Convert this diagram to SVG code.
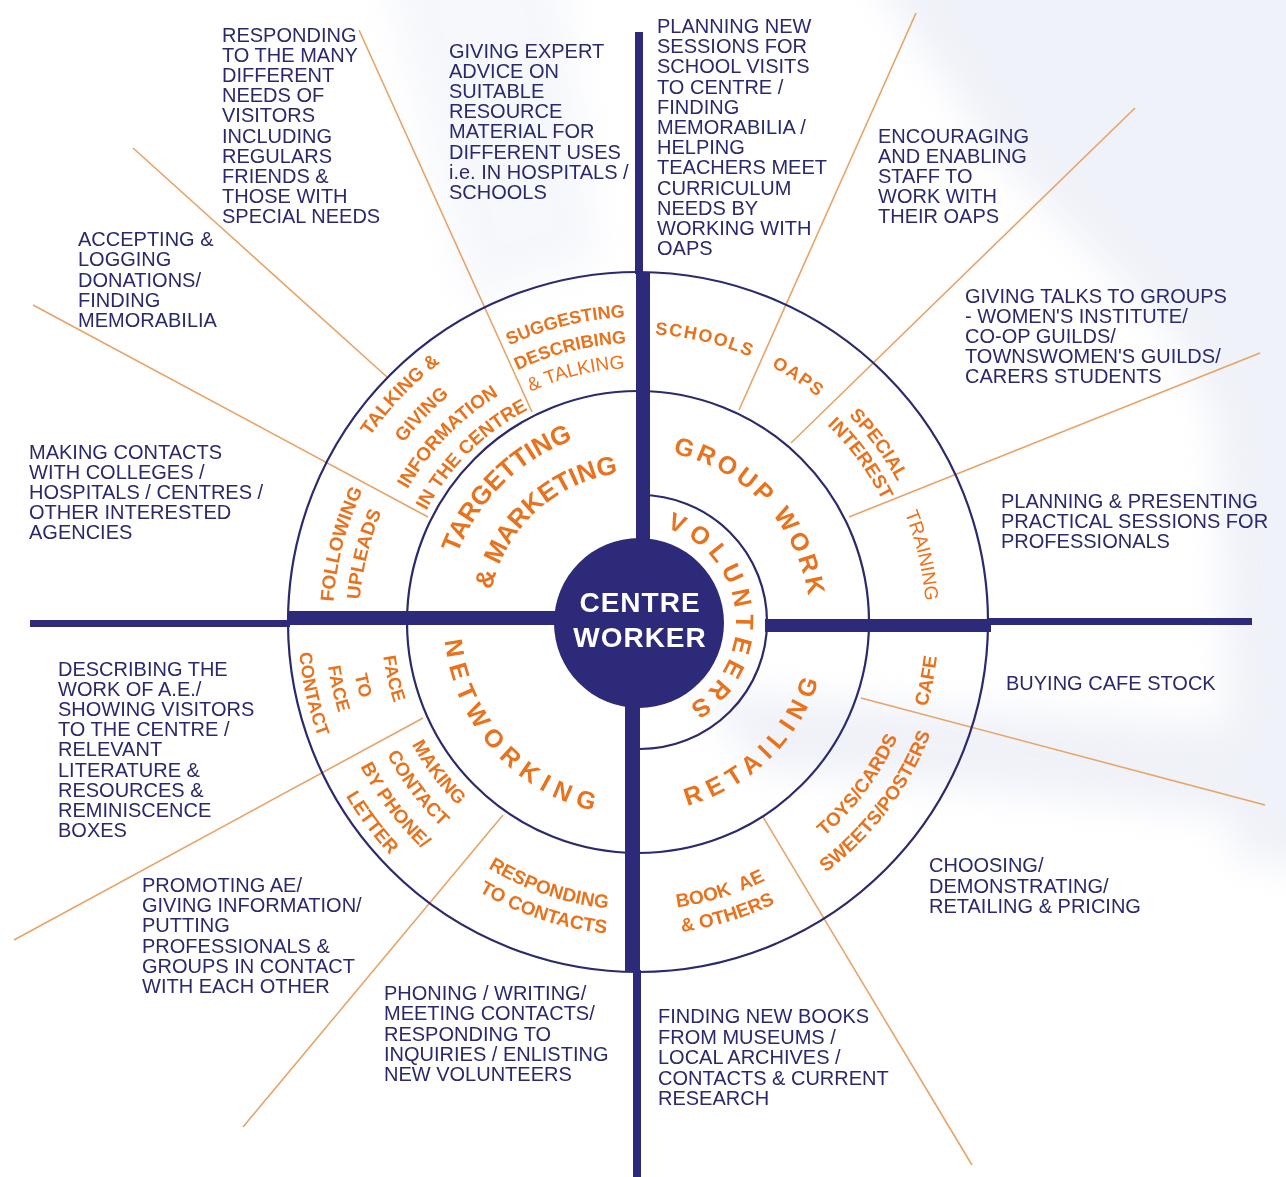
<svg xmlns="http://www.w3.org/2000/svg" width="1286" height="1177" viewBox="0 0 1286 1177">
<style>
.t{font-family:"Liberation Sans",Arial,sans-serif;font-size:20px;fill:#29296b}
.o{font-family:"Liberation Sans",Arial,sans-serif;font-weight:bold;font-size:18px;fill:#E8731E;text-anchor:middle}
.s19{font-size:19px}
.nw{font-weight:normal;fill:#F0701A}
.big{font-size:26px}
.mid{font-size:25px}
.ring{fill:none;stroke:#2B2A6B;stroke-width:2.2}
.ray{stroke:#E6A468;stroke-width:1.6;fill:none}
.bar{fill:#2E2A7A}
.bg{fill:#e9ecf6}
.cw{font-family:"Liberation Sans",Arial,sans-serif;font-weight:bold;font-size:28px;fill:#ffffff;text-anchor:middle;letter-spacing:1px}
</style>
<defs>
<filter id="soft" x="-20%" y="-20%" width="140%" height="140%"><feGaussianBlur stdDeviation="18"/></filter>
<path id="t98" d="M-96.51,-17.02 A98,98 0 0 1 96.51,-17.02"/>
<path id="t150" d="M-147.72,-26.05 A150,150 0 0 1 147.72,-26.05"/>
<path id="t172" d="M-169.39,-29.87 A172,172 0 0 1 169.39,-29.87"/>
<path id="t193" d="M-190.07,-33.51 A193,193 0 0 1 190.07,-33.51"/>
<path id="t239" d="M-235.37,-41.50 A239,239 0 0 1 235.37,-41.50"/>
<path id="t254" d="M-250.14,-44.11 A254,254 0 0 1 250.14,-44.11"/>
<path id="t266" d="M-261.96,-46.19 A266,266 0 0 1 261.96,-46.19"/>
<path id="t273" d="M-268.85,-47.41 A273,273 0 0 1 268.85,-47.41"/>
<path id="t279" d="M-274.76,-48.45 A279,279 0 0 1 274.76,-48.45"/>
<path id="t288" d="M-283.63,-50.01 A288,288 0 0 1 283.63,-50.01"/>
<path id="t295" d="M-290.52,-51.23 A295,295 0 0 1 290.52,-51.23"/>
<path id="t305" d="M-300.37,-52.96 A305,305 0 0 1 300.37,-52.96"/>
<path id="t326" d="M-321.05,-56.61 A326,326 0 0 1 321.05,-56.61"/>
<path id="b190" d="M-187.11,32.99 A190,190 0 0 0 187.11,32.99"/>
<path id="b194" d="M-191.05,33.69 A194,194 0 0 0 191.05,33.69"/>
<path id="b257" d="M-253.10,44.63 A257,257 0 0 0 253.10,44.63"/>
<path id="b284" d="M-279.69,49.32 A284,284 0 0 0 279.69,49.32"/>
<path id="b288" d="M-283.63,50.01 A288,288 0 0 0 283.63,50.01"/>
<path id="b301" d="M-296.43,52.27 A301,301 0 0 0 296.43,52.27"/>
<path id="b313" d="M-308.25,54.35 A313,313 0 0 0 308.25,54.35"/>
<path id="b340" d="M-334.84,59.04 A340,340 0 0 0 334.84,59.04"/>
</defs>
<rect width="1286" height="1177" fill="#ffffff"/>
<g id="background" filter="url(#soft)" opacity="0.7">
  <path class="bg" d="M860,-40 L1330,-40 L1330,870 L1235,860 L1215,420 L1170,330 L1000,160 Z"/>
  <path class="bg" d="M700,690 C850,700 1050,720 1330,730 L1330,830 C1100,800 900,780 760,770 Z"/>
  <path class="bg" d="M380,-40 L560,-40 L600,260 L470,300 Z" opacity="0.6"/>
</g>

<g id="connectors">
  <line class="ray" x1="359" y1="30" x2="532" y2="412"/>
  <line class="ray" x1="133" y1="148" x2="387" y2="377"/>
  <line class="ray" x1="33" y1="305" x2="428" y2="517"/>
  <line class="ray" x1="14" y1="940" x2="423" y2="718"/>
  <line class="ray" x1="243" y1="1127" x2="503" y2="815"/>
  <line class="ray" x1="972" y1="1165" x2="763" y2="817"/>
  <line class="ray" x1="861" y1="698" x2="1265" y2="805"/>
  <line class="ray" x1="1260" y1="353" x2="849" y2="517"/>
  <line class="ray" x1="1135" y1="108" x2="791" y2="443"/>
  <line class="ray" x1="916" y1="13" x2="739" y2="410"/>
  <circle class="ring" cx="638" cy="622" r="350"/>
  <circle class="ring" cx="638" cy="622" r="231"/>
  <path class="ring" d="M640,495 A127,127 0 0 1 640,749"/>
  <rect class="bar" x="635" y="32" width="8" height="242"/>
  <rect class="bar" x="633" y="970" width="8" height="207"/>
  <rect class="bar" x="30" y="620" width="260" height="7"/>
  <rect class="bar" x="989" y="618" width="263" height="7"/>
  <rect class="bar" x="636" y="272" width="14" height="270"/>
  <rect class="bar" x="625" y="700" width="15" height="272"/>
  <rect class="bar" x="288" y="611" width="270" height="14"/>
  <rect class="bar" x="765" y="619" width="226" height="13"/>
</g>

<g id="centre-worker">
  <circle cx="639" cy="623" r="85" fill="#2E2A7A"/>
  <text class="cw" x="640" y="612">CENTRE</text>
  <text class="cw" x="640" y="647">WORKER</text>
</g>

<g id="ring-targetting">
  <text class="o big" transform="translate(638 622) rotate(315.5)"><textPath href="#t193" startOffset="50%">TARGETTING</textPath></text>
  <text class="o big" transform="translate(638 622) rotate(317.3)"><textPath href="#t150" startOffset="50%">&amp; MARKETING</textPath></text>
  <text class="o" transform="translate(638 622) rotate(346.3)"><textPath href="#t305" startOffset="50%">SUGGESTING</textPath></text>
  <text class="o" transform="translate(638 622) rotate(346)"><textPath href="#t279" startOffset="50%">DESCRIBING</textPath></text>
  <text class="o nw s19" transform="translate(638 622) rotate(346)"><textPath href="#t254" startOffset="50%">&amp; TALKING</textPath></text>
  <text class="o s19" transform="translate(638 622) rotate(313.7)"><textPath href="#t326" startOffset="50%">TALKING &amp;</textPath></text>
  <text class="o s19" transform="translate(638 622) rotate(313.8)"><textPath href="#t295" startOffset="50%">GIVING</textPath></text>
  <text class="o s19" transform="translate(638 622) rotate(314.2)"><textPath href="#t266" startOffset="50%">INFORMATION</textPath></text>
  <text class="o s19" transform="translate(638 622) rotate(315.2)"><textPath href="#t239" startOffset="50%">IN THE CENTRE</textPath></text>
  <text class="o s19" transform="translate(638 622) rotate(284.7)"><textPath href="#t305" startOffset="50%">FOLLOWING</textPath></text>
  <text class="o s19" transform="translate(638 622) rotate(283.9)"><textPath href="#t279" startOffset="50%">UPLEADS</textPath></text>
</g>

<g id="ring-group-work">
  <text class="o mid" letter-spacing="3.5" transform="translate(638 622) rotate(47)"><textPath href="#t172" startOffset="50%">GROUP WORK</textPath></text>
  <text class="o" letter-spacing="1.5" transform="translate(638 622) rotate(13.3)"><textPath href="#t288" startOffset="50%">SCHOOLS</textPath></text>
  <text class="o" letter-spacing="1.5" transform="translate(638 622) rotate(33.2)"><textPath href="#t288" startOffset="50%">OAPS</textPath></text>
  <text class="o s19" transform="translate(638 622) rotate(53.6)"><textPath href="#t295" startOffset="50%">SPECIAL</textPath></text>
  <text class="o s19" transform="translate(638 622) rotate(53.7)"><textPath href="#t273" startOffset="50%">INTEREST</textPath></text>
  <text class="o nw s19" transform="translate(638 622) rotate(76.8)"><textPath href="#t288" startOffset="50%">TRAINING</textPath></text>
</g>

<g id="ring-volunteers">
  <text class="o mid" letter-spacing="6" transform="translate(638 622) rotate(84.2)"><textPath href="#t98" startOffset="50%">VOLUNTEERS</textPath></text>
</g>

<g id="ring-networking">
  <text class="o mid" letter-spacing="7.5" transform="translate(638 622) rotate(47.8)"><textPath href="#b194" startOffset="50%">NETWORKING</textPath></text>
  <text class="o" transform="translate(638 622) rotate(77)"><textPath href="#b257" startOffset="50%">FACE</textPath></text>
  <text class="o" transform="translate(638 622) rotate(77)"><textPath href="#b288" startOffset="50%">TO</textPath></text>
  <text class="o" transform="translate(638 622) rotate(77.5)"><textPath href="#b313" startOffset="50%">FACE</textPath></text>
  <text class="o" transform="translate(638 622) rotate(77.5)"><textPath href="#b340" startOffset="50%">CONTACT</textPath></text>
  <text class="o s19" transform="translate(638 622) rotate(53)"><textPath href="#b257" startOffset="50%">MAKING</textPath></text>
  <text class="o s19" transform="translate(638 622) rotate(53)"><textPath href="#b284" startOffset="50%">CONTACT</textPath></text>
  <text class="o s19" transform="translate(638 622) rotate(53)"><textPath href="#b313" startOffset="50%">BY PHONE/</textPath></text>
  <text class="o s19" transform="translate(638 622) rotate(53)"><textPath href="#b340" startOffset="50%">LETTER</textPath></text>
  <text class="o s19" transform="translate(638 622) rotate(18.7)"><textPath href="#b288" startOffset="50%">RESPONDING</textPath></text>
  <text class="o s19" transform="translate(638 622) rotate(18.2)"><textPath href="#b313" startOffset="50%">TO CONTACTS</textPath></text>
</g>

<g id="ring-retailing">
  <text class="o mid" letter-spacing="7" transform="translate(638 622) rotate(-44.5)"><textPath href="#b190" startOffset="50%">RETAILING</textPath></text>
  <text class="o s19" word-spacing="5" transform="translate(638 622) rotate(-17)"><textPath href="#b288" startOffset="50%">BOOK AE</textPath></text>
  <text class="o s19" transform="translate(638 622) rotate(-17)"><textPath href="#b313" startOffset="50%">&amp; OTHERS</textPath></text>
  <text class="o s19" transform="translate(638 622) rotate(-53.5)"><textPath href="#b284" startOffset="50%">TOYS/CARDS</textPath></text>
  <text class="o s19" transform="translate(638 622) rotate(-53)"><textPath href="#b313" startOffset="50%">SWEETS/POSTERS</textPath></text>
  <text class="o s19" transform="translate(638 622) rotate(-78.5)"><textPath href="#b301" startOffset="50%">CAFE</textPath></text>
</g>

<g id="note-responding">
  <text class="t" x="222" y="42">RESPONDING<tspan x="222" dy="20.1">TO THE MANY</tspan><tspan x="222" dy="20.1">DIFFERENT</tspan><tspan x="222" dy="20.1">NEEDS OF</tspan><tspan x="222" dy="20.1">VISITORS</tspan><tspan x="222" dy="20.1">INCLUDING</tspan><tspan x="222" dy="20.1">REGULARS</tspan><tspan x="222" dy="20.1">FRIENDS &amp;</tspan><tspan x="222" dy="20.1">THOSE WITH</tspan><tspan x="222" dy="20.1">SPECIAL NEEDS</tspan></text>
</g>
<g id="note-expert">
  <text class="t" x="449" y="58">GIVING EXPERT<tspan x="449" dy="20.1">ADVICE ON</tspan><tspan x="449" dy="20.1">SUITABLE</tspan><tspan x="449" dy="20.1">RESOURCE</tspan><tspan x="449" dy="20.1">MATERIAL FOR</tspan><tspan x="449" dy="20.1">DIFFERENT USES</tspan><tspan x="449" dy="20.1">i.e. IN HOSPITALS /</tspan><tspan x="449" dy="20.1">SCHOOLS</tspan></text>
</g>
<g id="note-accepting">
  <text class="t" x="78" y="246">ACCEPTING &amp;<tspan x="78" dy="20.25">LOGGING</tspan><tspan x="78" dy="20.25">DONATIONS/</tspan><tspan x="78" dy="20.25">FINDING</tspan><tspan x="78" dy="20.25">MEMORABILIA</tspan></text>
</g>
<g id="note-planning-new">
  <text class="t" x="657" y="33">PLANNING NEW<tspan x="657" dy="20.2">SESSIONS FOR</tspan><tspan x="657" dy="20.2">SCHOOL VISITS</tspan><tspan x="657" dy="20.2">TO CENTRE /</tspan><tspan x="657" dy="20.2">FINDING</tspan><tspan x="657" dy="20.2">MEMORABILIA /</tspan><tspan x="657" dy="20.2">HELPING</tspan><tspan x="657" dy="20.2">TEACHERS MEET</tspan><tspan x="657" dy="20.2">CURRICULUM</tspan><tspan x="657" dy="20.2">NEEDS BY</tspan><tspan x="657" dy="20.2">WORKING WITH</tspan><tspan x="657" dy="20.2">OAPS</tspan></text>
</g>
<g id="note-encouraging">
  <text class="t" x="878" y="143">ENCOURAGING<tspan x="878" dy="20">AND ENABLING</tspan><tspan x="878" dy="20">STAFF TO</tspan><tspan x="878" dy="20">WORK WITH</tspan><tspan x="878" dy="20">THEIR OAPS</tspan></text>
</g>
<g id="note-talks">
  <text class="t" x="965" y="303">GIVING TALKS TO GROUPS<tspan x="965" dy="20">- WOMEN'S INSTITUTE/</tspan><tspan x="965" dy="20">CO-OP GUILDS/</tspan><tspan x="965" dy="20">TOWNSWOMEN'S GUILDS/</tspan><tspan x="965" dy="20">CARERS STUDENTS</tspan></text>
</g>
<g id="note-presenting">
  <text class="t" x="1001" y="508">PLANNING &amp; PRESENTING<tspan x="1001" dy="20">PRACTICAL SESSIONS FOR</tspan><tspan x="1001" dy="20">PROFESSIONALS</tspan></text>
</g>
<g id="note-cafe">
  <text class="t" x="1006" y="690">BUYING CAFE STOCK</text>
</g>
<g id="note-choosing">
  <text class="t" x="929" y="872">CHOOSING/<tspan x="929" dy="20.5">DEMONSTRATING/</tspan><tspan x="929" dy="20.5">RETAILING &amp; PRICING</tspan></text>
</g>
<g id="note-books">
  <text class="t" x="658" y="1023">FINDING NEW BOOKS<tspan x="658" dy="20.5">FROM MUSEUMS /</tspan><tspan x="658" dy="20.5">LOCAL ARCHIVES /</tspan><tspan x="658" dy="20.5">CONTACTS &amp; CURRENT</tspan><tspan x="658" dy="20.5">RESEARCH</tspan></text>
</g>
<g id="note-phoning">
  <text class="t" x="384" y="1000">PHONING / WRITING/<tspan x="384" dy="20.25">MEETING CONTACTS/</tspan><tspan x="384" dy="20.25">RESPONDING TO</tspan><tspan x="384" dy="20.25">INQUIRIES / ENLISTING</tspan><tspan x="384" dy="20.25">NEW VOLUNTEERS</tspan></text>
</g>
<g id="note-promoting">
  <text class="t" x="142" y="892">PROMOTING AE/<tspan x="142" dy="20.2">GIVING INFORMATION/</tspan><tspan x="142" dy="20.2">PUTTING</tspan><tspan x="142" dy="20.2">PROFESSIONALS &amp;</tspan><tspan x="142" dy="20.2">GROUPS IN CONTACT</tspan><tspan x="142" dy="20.2">WITH EACH OTHER</tspan></text>
</g>
<g id="note-describing">
  <text class="t" x="58" y="676">DESCRIBING THE<tspan x="58" dy="20.1">WORK OF A.E./</tspan><tspan x="58" dy="20.1">SHOWING VISITORS</tspan><tspan x="58" dy="20.1">TO THE CENTRE /</tspan><tspan x="58" dy="20.1">RELEVANT</tspan><tspan x="58" dy="20.1">LITERATURE &amp;</tspan><tspan x="58" dy="20.1">RESOURCES &amp;</tspan><tspan x="58" dy="20.1">REMINISCENCE</tspan><tspan x="58" dy="20.1">BOXES</tspan></text>
</g>
<g id="note-contacts">
  <text class="t" x="29" y="459">MAKING CONTACTS<tspan x="29" dy="20">WITH COLLEGES /</tspan><tspan x="29" dy="20">HOSPITALS / CENTRES /</tspan><tspan x="29" dy="20">OTHER INTERESTED</tspan><tspan x="29" dy="20">AGENCIES</tspan></text>
</g>
</svg>
